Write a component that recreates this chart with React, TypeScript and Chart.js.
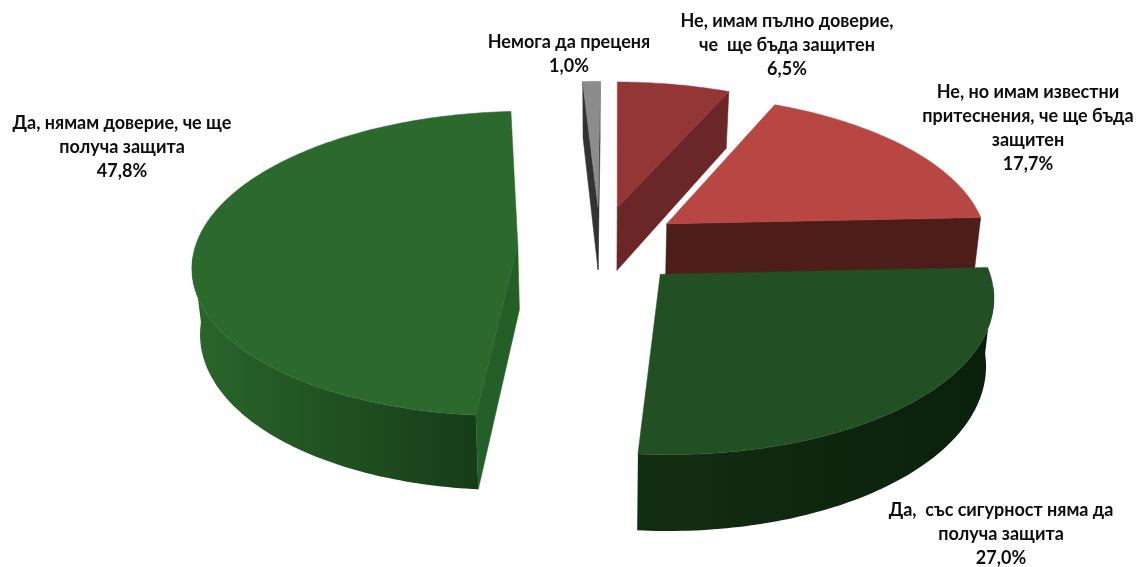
import React, { useEffect, useRef } from "react";
import { Chart, registerables } from "chart.js";

Chart.register(...registerables);

const categories = [
  "Немога да преценя",
  "Не, имам пълно доверие, че ще бъда защитен",
  "Не, но имам известни притеснения, че ще бъда защитен",
  "Да, със сигурност няма да получа защита",
  "Да, нямам доверие, че ще получа защита",
];
const values = [1.0, 6.5, 17.7, 27.0, 47.8];
const labelLines = [
  ["Немога да преценя"],
  ["Не, имам пълно доверие,", "че  ще бъда защитен"],
  ["Не, но имам известни", "притеснения, че ще бъда", "защитен"],
  ["Да,  със сигурност няма да", "получа защита"],
  ["Да, нямам доверие, че ще", "получа защита"],
];
const topColors = ["#8c8c8c", "#943636", "#b84744", "#224f23", "#2b692c"];
const faceColors = ["#333333", "#6b2727", "#4d1d1a", "#12300f", "#245f27"];
const rimLeft = ["#333333", "#6b2727", "#4d1d1a", "#122e12", "#2a662b"];
const rimRight = ["#333333", "#6b2727", "#4d1d1a", "#0a200c", "#173d18"];
const explode = [66, 66, 64, 66, 64];
const labelAnchors = [
  [569, 42],
  [787, 21],
  [1028, 92],
  [1001, 510],
  [122, 123],
];

const CX = 600, CY = 245, RX = 322, RY = 150, DEPTH = 65, PERSP = 0.125, CONVERGE = 0.02;
const LINE = 24;

function project(X: number, Y: number, Z: number): [number, number] {
  const s = 1 / (1 - PERSP * Y);
  return [CX + RX * X * s * (1 - CONVERGE * Z), CY + RY * Y * s + DEPTH * Z * s];
}

function poly(ctx: CanvasRenderingContext2D, pts: [number, number][], fill: any) {
  ctx.beginPath();
  pts.forEach((p, i) => (i ? ctx.lineTo(p[0], p[1]) : ctx.moveTo(p[0], p[1])));
  ctx.closePath();
  ctx.fillStyle = fill;
  ctx.strokeStyle = typeof fill === "string" ? fill : "rgba(0,0,0,0)";
  ctx.lineWidth = 0.5;
  ctx.fill();
  ctx.stroke();
}

const pie3d = {
  id: "pie3d",
  beforeDatasetDraw(chart: any) {
    const ctx: CanvasRenderingContext2D = chart.ctx;
    const arcs = chart.getDatasetMeta(0).data;
    const eyeY = 1 / PERSP;
    ctx.save();
    const order = [0, 1, 2, 4, 3];
    order.forEach((i) => {
      const arc = arcs[i];
      const { startAngle: a0, endAngle: a1, outerRadius: r } = arc.getProps(["startAngle", "endAngle", "outerRadius"], true);
      const d = arc.options.offset / r;
      const mid = (a0 + a1) / 2;
      const ax = Math.cos(mid) * d, ay = Math.sin(mid) * d;
      const n = Math.max(2, Math.ceil(((a1 - a0) * 180) / Math.PI));
      const rimPts: { X: number; Y: number; vis: boolean }[] = [];
      for (let k = 0; k <= n; k++) {
        const a = a0 + ((a1 - a0) * k) / n;
        const X = ax + Math.cos(a), Y = ay + Math.sin(a);
        const vis = Math.cos(a) * (0 - X) + Math.sin(a) * (eyeY - Y) > -0.6;
        rimPts.push({ X, Y, vis });
      }
      const run = rimPts.filter((p) => p.vis);
      if (run.length > 1) {
        const top = run.map((p) => project(p.X, p.Y, 0));
        const bottom = run.map((p) => project(p.X, p.Y, 1)).reverse();
        const xs = top.map((p) => p[0]);
        const g = ctx.createLinearGradient(Math.min(...xs), 0, Math.max(...xs), 0);
        g.addColorStop(0, rimLeft[i]);
        g.addColorStop(1, rimRight[i]);
        poly(ctx, [...top, ...bottom], g);
      }
      const faces: [number, number][] = [
        [a0, a0 - Math.PI / 2],
        [a1, a1 + Math.PI / 2],
      ];
      faces.forEach(([edge, nrm]) => {
        if (Math.cos(nrm) * (0 - ax) + Math.sin(nrm) * (eyeY - ay) <= 0) return;
        const ex = ax + Math.cos(edge), ey = ay + Math.sin(edge);
        poly(
          ctx,
          [project(ax, ay, 0), project(ex, ey, 0), project(ex, ey, 1), project(ax, ay, 1)],
          faceColors[i]
        );
      });
      const topFace: [number, number][] = [project(ax, ay, 0)];
      rimPts.forEach((p) => topFace.push(project(p.X, p.Y, 0)));
      poly(ctx, topFace, arc.options.backgroundColor);
    });

    ctx.fillStyle = "#0d0d0d";
    ctx.font = 'bold 18px Lato, "Open Sans", sans-serif';
    ctx.textAlign = "center";
    ctx.textBaseline = "middle";
    labelLines.forEach((lines, i) => {
      const [x, y] = labelAnchors[i];
      const all = [...lines, values[i].toFixed(1).replace(".", ",") + "%"];
      all.forEach((t, k) => ctx.fillText(t, x, y + k * LINE));
    });
    ctx.restore();
    return false;
  },
};

export default function App() {
  const ref = useRef<HTMLCanvasElement>(null);
  useEffect(() => {
    document.body.style.margin = "0";
    const chart = new Chart(ref.current!, {
      type: "pie",
      data: {
        labels: categories,
        datasets: [
          {
            data: values,
            backgroundColor: topColors,
            borderWidth: 0,
            offset: explode,
            hoverOffset: 0,
          },
        ],
      },
      options: {
        animation: false,
        responsive: false,
        rotation: -3.2,
        events: [],
        plugins: { legend: { display: false }, tooltip: { enabled: false } },
      },
      plugins: [pie3d],
    });
    return () => chart.destroy();
  }, []);
  return <canvas ref={ref} width={1136} height={567} style={{ display: "block" }} />;
}
